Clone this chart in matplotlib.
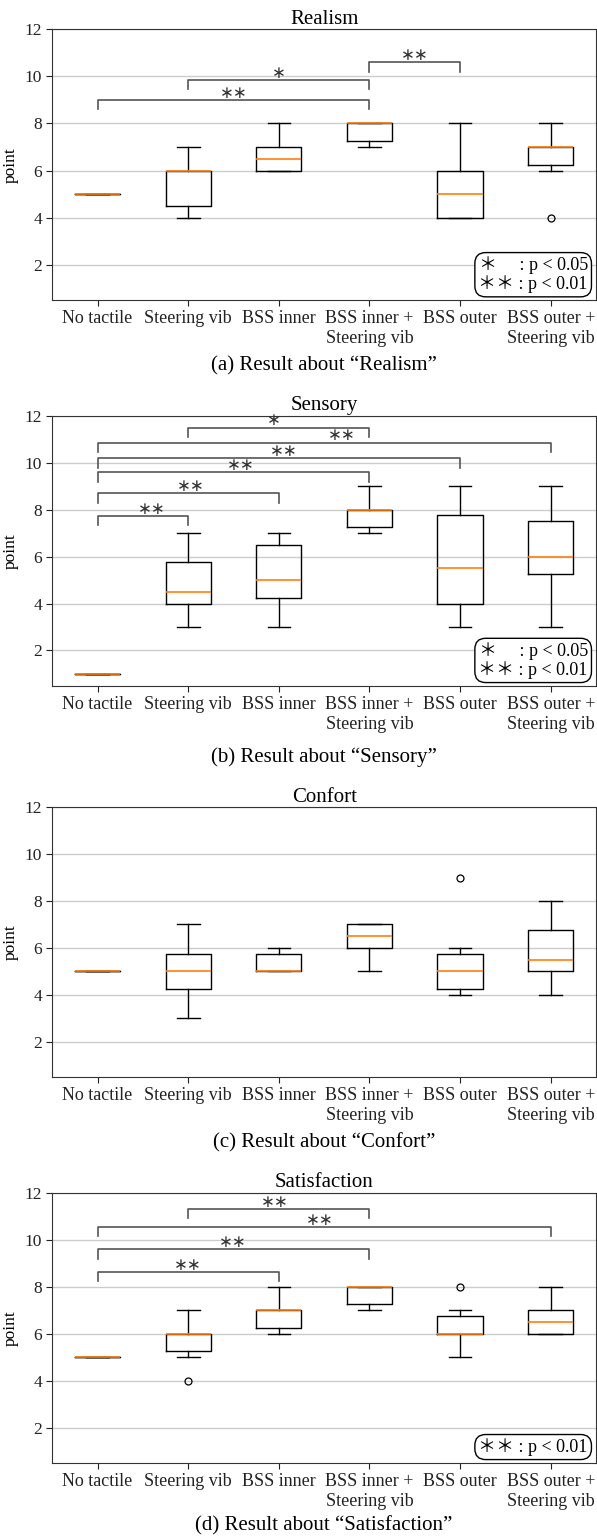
import matplotlib.pyplot as plt

plt.rcParams['font.family'] = ['Liberation Serif', 'Noto Sans CJK JP', 'DejaVu Sans']

categories = ["No tactile", "Steering vib", "BSS inner", "BSS inner +\nSteering vib",
              "BSS outer", "BSS outer +\nSteering vib"]

# box statistics: q1, median, q3, whisker low/high, outliers
realism_q1 = [5, 4.5, 6, 7.25, 4, 6.25]
realism_med = [5, 6, 6.5, 8, 5, 7]
realism_q3 = [5, 6, 7, 8, 6, 7]
realism_lo = [5, 4, 6, 7, 4, 6]
realism_hi = [5, 7, 8, 8, 8, 8]
realism_fliers = [[], [], [], [], [], [4]]

sensory_q1 = [1, 4, 4.25, 7.25, 4, 5.25]
sensory_med = [1, 4.5, 5, 8, 5.5, 6]
sensory_q3 = [1, 5.75, 6.5, 8, 7.75, 7.5]
sensory_lo = [1, 3, 3, 7, 3, 3]
sensory_hi = [1, 7, 7, 9, 9, 9]
sensory_fliers = [[], [], [], [], [], []]

confort_q1 = [5, 4.25, 5, 6, 4.25, 5]
confort_med = [5, 5, 5, 6.5, 5, 5.5]
confort_q3 = [5, 5.75, 5.75, 7, 5.75, 6.75]
confort_lo = [5, 3, 5, 5, 4, 4]
confort_hi = [5, 7, 6, 7, 6, 8]
confort_fliers = [[], [], [], [], [9], []]

satisfaction_q1 = [5, 5.25, 6.25, 7.25, 6, 6]
satisfaction_med = [5, 6, 7, 8, 6, 6.5]
satisfaction_q3 = [5, 6, 7, 8, 6.75, 7]
satisfaction_lo = [5, 5, 6, 7, 5, 6]
satisfaction_hi = [5, 7, 8, 8, 7, 8]
satisfaction_fliers = [[], [4], [], [], [8], []]

# significance brackets: (group i, group j, height, label, label x)
realism_sig = [(1, 4, 9.0, "**", 2.5), (2, 4, 9.85, "*", 3.0), (4, 5, 10.6, "**", 4.5)]
sensory_sig = [(2, 4, 11.49, "*", 2.95), (1, 6, 10.85, "**", 3.7), (1, 5, 10.18, "**", 3.05),
               (1, 4, 9.59, "**", 2.58), (1, 3, 8.7, "**", 2.03), (1, 2, 7.73, "**", 1.6)]
confort_sig = []
satisfaction_sig = [(2, 4, 11.32, "**", 2.95), (1, 6, 10.55, "**", 3.45),
                    (1, 4, 9.6, "**", 2.49), (1, 3, 8.63, "**", 2.0)]

legend_both = "＊　 : p < 0.05\n＊＊ : p < 0.01"
legend_one = "＊＊ : p < 0.01"

panels = [
    ("Realism", "(a) Result about \u201cRealism\u201d",
     realism_q1, realism_med, realism_q3, realism_lo, realism_hi, realism_fliers, realism_sig, legend_both),
    ("Sensory", "(b) Result about \u201cSensory\u201d",
     sensory_q1, sensory_med, sensory_q3, sensory_lo, sensory_hi, sensory_fliers, sensory_sig, legend_both),
    ("Confort", "(c) Result about \u201cConfort\u201d",
     confort_q1, confort_med, confort_q3, confort_lo, confort_hi, confort_fliers, confort_sig, None),
    ("Satisfaction", "(d) Result about \u201cSatisfaction\u201d",
     satisfaction_q1, satisfaction_med, satisfaction_q3, satisfaction_lo, satisfaction_hi,
     satisfaction_fliers, satisfaction_sig, legend_one),
]

W, H = 597, 1537
fig = plt.figure(figsize=(W / 100, H / 100), dpi=100)

ax_top = [29.3, 415.7, 807.3, 1193]
ax_bot = [300, 685.7, 1076.7, 1462.7]
cap_y = [366, 757, 1143, 1526]
left, right = 52.3, 596

for k, (title, caption, q1, med, q3, lo, hi, fl, sig, leg) in enumerate(panels):
    ax = fig.add_axes([left / W, 1 - ax_bot[k] / H, (right - left) / W, (ax_bot[k] - ax_top[k]) / H])
    stats = []
    for i in range(len(categories)):
        stats.append(dict(q1=q1[i], med=med[i], q3=q3[i], whislo=lo[i], whishi=hi[i],
                          fliers=fl[i], label=categories[i]))
    ax.bxp(stats, positions=range(1, 7), widths=0.5,
           boxprops=dict(color='black', lw=1),
           whiskerprops=dict(color='black', lw=1),
           capprops=dict(color='black', lw=1),
           medianprops=dict(color='#ff7f0e', lw=1.2),
           flierprops=dict(marker='o', markersize=5, markerfacecolor='none',
                           markeredgecolor='black', markeredgewidth=0.9))
    ax.set_xlim(0.5, 6.5)
    ax.set_ylim(0.5, 12)
    ax.set_yticks([2, 4, 6, 8, 10, 12])
    ax.yaxis.grid(True, color='#cccccc', lw=1)
    ax.set_axisbelow(True)
    ax.tick_params(axis='x', labelsize=13, length=4, colors='#222222')
    ax.tick_params(axis='y', labelsize=12.5, length=4, colors='#222222')
    for s in ax.spines.values():
        s.set_color('#333333')
    ax.set_ylabel("point", fontsize=12.5, labelpad=4)
    ax.set_title(title, fontsize=15, pad=4)

    for (i, j, h, lab, tx) in sig:
        ax.plot([i, i, j, j], [h - 0.4, h, h, h - 0.4], color='#555555', lw=1.2)
        ax.text(tx, h + 0.1, lab.replace("*", "\u2217"), ha='center', va='baseline',
                fontsize=12, family='DejaVu Sans', color='#333333')

    if leg is not None:
        ax.text(0.985, 0.025, leg, transform=ax.transAxes, ha='right', va='bottom',
                fontsize=13, linespacing=1.1,
                bbox=dict(boxstyle='round,pad=0.2,rounding_size=0.6', fc='white', ec='black', lw=1))

    fig.text((left + right) / 2 / W, 1 - cap_y[k] / H, caption, ha='center', va='center', fontsize=15)

fig.savefig("out.png", dpi=100)
